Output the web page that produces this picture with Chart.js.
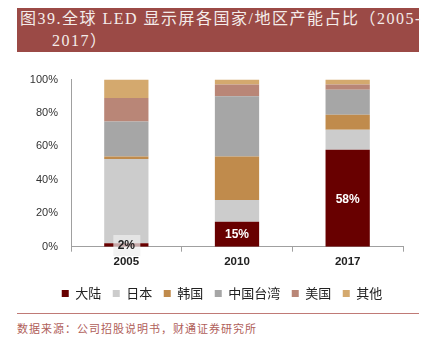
<!DOCTYPE html>
<html>
<head>
<meta charset="utf-8">
<script src="https://cdn.jsdelivr.net/npm/chart.js@4"></script>
<style>
body{margin:0;width:432px;height:341px;background:#fff;position:relative;overflow:hidden;}
#title{position:absolute;left:17px;top:8px;width:402px;height:44px;background:#9b4a46;color:#f4ecea;
font-family:"Liberation Serif","Noto Sans CJK SC";font-size:16px;letter-spacing:1.5px;line-height:22px;}
#title div{white-space:nowrap;}
#box{position:absolute;left:0;top:60px;width:432px;height:250px;}
#line{position:absolute;left:17px;top:313px;width:402px;height:1px;background:#c07a76;}
#src{position:absolute;left:17px;top:320px;font-family:"Noto Sans CJK SC";font-size:11px;letter-spacing:1px;color:#b0605a;}
</style>
</head>
<body>
<div id="title"><div style="padding-left:3px">图39.全球 LED 显示屏各国家/地区产能占比（2005-</div><div style="padding-left:35px">2017）</div></div>
<div id="box"><canvas id="myChart"></canvas></div>
<div id="line"></div>
<div id="src">数据来源：公司招股说明书，财通证券研究所</div>
<script>
let years = ['2005', '2010', '2017'];
let dalu = [2, 15, 58];
let riben = [50.5, 13, 12];
let hanguo = [1.5, 26, 9];
let taiwan = [21, 36, 15];
let meiguo = [14, 7, 3];
let qita = [11, 3, 3];
let yStep = 20;

let labelPlugin = {
    id: 'labels',
    afterLayout(chart) {
        // legend sits a bit right of centre in the original
        chart.legend.left += 14.5;
        chart.legend.right += 14.5;
    },
    afterDatasetsDraw(chart) {
        let c = chart.ctx;
        let meta = chart.getDatasetMeta(0);
        meta.data.forEach((bar, i) => {
            let y = (bar.y + bar.base) / 2;
            let txt = dalu[i] + '%';
            c.save();
            c.font = 'bold 12px "Liberation Sans"';
            c.textAlign = 'center';
            c.textBaseline = 'middle';
            if (i == 0) {
                c.fillStyle = 'rgba(238,238,238,0.7)';
                c.fillRect(bar.x - 13, y - 10, 27, 21);
                c.fillStyle = '#222';
            } else {
                c.fillStyle = '#fff';
            }
            c.fillText(txt, bar.x, y + 1);
            c.restore();
        });
    }
};

const ctx = document.getElementById('myChart').getContext('2d');
const myChart = new Chart(ctx, {
    type: 'bar',
    data: {
        labels: years,
        datasets: [
            {label: '大陆', data: dalu, backgroundColor: '#680000'},
            {label: '日本', data: riben, backgroundColor: '#cccccc'},
            {label: '韩国', data: hanguo, backgroundColor: '#c08b4c'},
            {label: '中国台湾', data: taiwan, backgroundColor: '#a6a6a6'},
            {label: '美国', data: meiguo, backgroundColor: '#b98677'},
            {label: '其他', data: qita, backgroundColor: '#d4a96e'}
        ]
    },
    options: {
        responsive: true,
        maintainAspectRatio: false,
        animation: false,
        datasets: {bar: {barPercentage: 0.4, categoryPercentage: 1}},
        layout: {padding: {left: 12, right: 29, top: 12, bottom: 0}},
        plugins: {
            tooltip: {enabled: false},
            legend: {
                position: 'bottom',
                labels: {
                    boxWidth: 7, boxHeight: 7, padding: 11.5, color: '#222',
                    font: {family: '"Noto Sans CJK SC"', size: 13}
                }
            }
        },
        scales: {
            x: {
                stacked: true,
                afterFit: function(s) { s.height += 4; },
                grid: {offset: true, drawOnChartArea: false, tickLength: 5, color: '#a0a0a0'},
                border: {color: '#a0a0a0'},
                ticks: {color: '#222', padding: 3, font: {family: '"Liberation Sans"', size: 11.5, weight: 'bold'}}
            },
            y: {
                stacked: true,
                min: 0, max: 100,
                afterFit: function(s) { s.width = 59; },
                grid: {display: false, drawTicks: false},
                border: {display: true, color: '#a0a0a0'},
                ticks: {stepSize: yStep, color: '#333', padding: 13, callback: v => v + '%', font: {family: '"Liberation Sans"', size: 11}}
            }
        }
    },
    plugins: [labelPlugin]
});
</script>
</body>
</html>
